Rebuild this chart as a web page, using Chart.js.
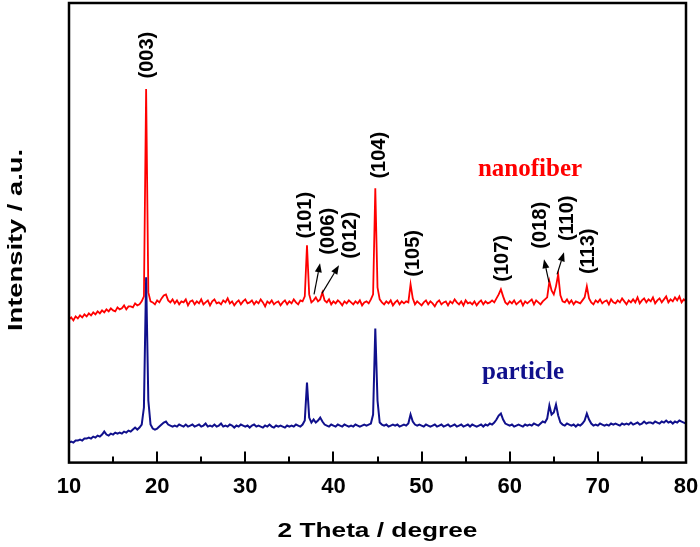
<!DOCTYPE html>
<html>
<head>
<meta charset="utf-8">
<script src="https://cdn.jsdelivr.net/npm/chart.js@4.4.0/dist/chart.umd.min.js"></script>
<style>
  html, body { margin: 0; padding: 0; background: #fff; }
  #wrap { width: 700px; height: 547px; position: relative; }
</style>
</head>
<body>
<div id="wrap"><canvas id="xrd"></canvas></div>
<script>
// 2 theta positions (degree)
const twoTheta = [
  10, 10.25, 10.5, 10.75, 11, 11.25, 11.5, 11.75, 12, 12.25, 12.5, 12.75, 13, 13.25, 13.5, 13.75,
  14, 14.25, 14.5, 14.75, 15, 15.25, 15.5, 15.75, 16, 16.25, 16.5, 16.75, 17, 17.25, 17.5, 17.75,
  18, 18.25, 18.5, 18.75, 19, 19.25, 19.5, 19.75, 20, 20.25, 20.5, 20.75, 21, 21.25, 21.5, 21.75,
  22, 22.25, 22.5, 22.75, 23, 23.25, 23.5, 23.75, 24, 24.25, 24.5, 24.75, 25, 25.25, 25.5, 25.75,
  26, 26.25, 26.5, 26.75, 27, 27.25, 27.5, 27.75, 28, 28.25, 28.5, 28.75, 29, 29.25, 29.5, 29.75,
  30, 30.25, 30.5, 30.75, 31, 31.25, 31.5, 31.75, 32, 32.25, 32.5, 32.75, 33, 33.25, 33.5, 33.75,
  34, 34.25, 34.5, 34.75, 35, 35.25, 35.5, 35.75, 36, 36.25, 36.5, 36.75, 37, 37.25, 37.5, 37.75,
  38, 38.25, 38.5, 38.75, 39, 39.25, 39.5, 39.75, 40, 40.25, 40.5, 40.75, 41, 41.25, 41.5, 41.75,
  42, 42.25, 42.5, 42.75, 43, 43.25, 43.5, 43.75, 44, 44.25, 44.5, 44.75, 45, 45.25, 45.5, 45.75,
  46, 46.25, 46.5, 46.75, 47, 47.25, 47.5, 47.75, 48, 48.25, 48.5, 48.75, 49, 49.25, 49.5, 49.75,
  50, 50.25, 50.5, 50.75, 51, 51.25, 51.5, 51.75, 52, 52.25, 52.5, 52.75, 53, 53.25, 53.5, 53.75,
  54, 54.25, 54.5, 54.75, 55, 55.25, 55.5, 55.75, 56, 56.25, 56.5, 56.75, 57, 57.25, 57.5, 57.75,
  58, 58.25, 58.5, 58.75, 59, 59.25, 59.5, 59.75, 60, 60.25, 60.5, 60.75, 61, 61.25, 61.5, 61.75,
  62, 62.25, 62.5, 62.75, 63, 63.25, 63.5, 63.75, 64, 64.25, 64.5, 64.75, 65, 65.25, 65.5, 65.75,
  66, 66.25, 66.5, 66.75, 67, 67.25, 67.5, 67.75, 68, 68.25, 68.5, 68.75, 69, 69.25, 69.5, 69.75,
  70, 70.25, 70.5, 70.75, 71, 71.25, 71.5, 71.75, 72, 72.25, 72.5, 72.75, 73, 73.25, 73.5, 73.75,
  74, 74.25, 74.5, 74.75, 75, 75.25, 75.5, 75.75, 76, 76.25, 76.5, 76.75, 77, 77.25, 77.5, 77.75,
  78, 78.25, 78.5, 78.75, 79, 79.25, 79.5, 79.75, 80
];

// intensities (a.u., stacked as in the figure)
const nanofiber = [
  143, 145, 142, 146, 144, 147, 145, 148, 146, 149, 147, 150, 148, 151, 149, 152,
  150, 153, 151, 154, 152, 151, 155, 153, 154, 157, 153, 156, 156, 155, 159, 157,
  158, 161, 166, 373, 170, 161, 160, 158, 162, 160, 164, 167, 168, 162, 160, 163,
  159, 162, 158, 161, 160, 163, 157, 161, 162, 158, 161, 159, 163, 158, 160, 162,
  157, 161, 163, 159, 160, 158, 162, 160, 164, 159, 161, 157, 160, 162, 158, 161,
  163, 159, 160, 162, 158, 161, 159, 163, 160, 156, 161, 159, 162, 158, 160, 161,
  157, 160, 162, 158, 161, 159, 163, 160, 158, 162, 161, 166, 217, 168, 160, 162,
  165, 161, 163, 170, 162, 160, 163, 158, 161, 159, 162, 160, 157, 161, 159, 162,
  160, 158, 161, 159, 162, 157, 160, 161, 159, 163, 168, 274, 175, 163, 160, 158,
  161, 159, 162, 157, 160, 162, 158, 161, 159, 161, 160, 178, 164, 158, 161, 159,
  157, 160, 162, 158, 161, 159, 156, 160, 162, 158, 160, 161, 157, 161, 159, 163,
  160, 158, 161, 157, 162, 159, 160, 158, 161, 157, 160, 162, 158, 161, 159, 160,
  162, 160, 164, 168, 173, 166, 160, 158, 161, 159, 162, 158, 160, 162, 157, 161,
  159, 161, 163, 158, 162, 160, 158, 161, 163, 165, 181, 172, 168, 176, 188, 167,
  161, 160, 163, 159, 162, 158, 161, 160, 159, 162, 165, 176, 164, 160, 158, 162,
  160, 163, 159, 161, 162, 158, 163, 160, 159, 162, 160, 164, 161, 158, 162, 160,
  163, 160, 165, 159, 162, 164, 160, 163, 161, 165, 159, 162, 164, 160, 163, 166,
  160, 163, 161, 165, 162, 166, 160, 163, 161
];

const particle = [
  20, 21, 20, 22, 22, 23, 22, 24, 24, 25, 24, 26, 25, 27, 26, 28,
  31, 28, 27, 29, 28, 30, 29, 30, 29, 31, 30, 32, 31, 33, 35, 33,
  35, 38, 55, 185, 62, 38, 34, 33, 34, 36, 38, 40, 41, 38, 37, 36,
  37, 36, 38, 37, 36, 38, 36, 37, 38, 36, 37, 38, 36, 37, 39, 36,
  37, 36, 38, 36, 37, 39, 36, 37, 36, 38, 37, 35, 37, 36, 38, 37,
  36, 37, 35, 37, 38, 36, 37, 36, 35, 37, 36, 38, 36, 35, 37, 36,
  37, 36, 35, 37, 36, 37, 36, 38, 37, 36, 38, 42, 80, 45, 40, 43,
  40, 42, 45, 41, 38, 37, 36, 38, 37, 36, 38, 37, 36, 38, 37, 36,
  37, 36, 38, 37, 36, 37, 38, 37, 38, 39, 48, 134, 62, 40, 38, 37,
  38, 36, 37, 38, 37, 38, 36, 37, 38, 37, 39, 48, 41, 38, 37, 38,
  37, 36, 38, 37, 36, 37, 38, 36, 37, 38, 36, 37, 38, 36, 37, 38,
  36, 37, 38, 36, 37, 38, 36, 38, 37, 36, 37, 38, 36, 38, 37, 39,
  38, 40, 43, 47, 49, 43, 39, 38, 37, 38, 36, 37, 38, 37, 36, 38,
  37, 38, 37, 39, 38, 37, 39, 41, 40, 44, 57, 48, 50, 58, 47, 40,
  38, 37, 39, 38, 37, 38, 36, 38, 37, 39, 42, 49, 43, 39, 37, 38,
  37, 39, 38, 37, 38, 37, 39, 38, 39, 38, 37, 39, 38, 39, 38, 40,
  38, 39, 40, 38, 39, 41, 39, 40, 40, 39, 41, 40, 39, 41, 40, 42,
  40, 41, 39, 41, 40, 42, 41, 40, 39
];

// Miller index labels, placed in data units (degree, a.u.)
const hklText = ['(003)', '(101)', '(006)', '(012)', '(104)', '(105)', '(107)', '(018)', '(110)', '(113)'];
const hklX    = [18.96, 36.78, 39.39, 41.88, 45.17, 49.03, 59.13, 63.44, 66.5, 68.88];
const hklY    = [407, 247, 231, 227, 307, 209, 204, 237, 244, 211];

// arrows: tail x, tail y, head x, head y
const arrowTail = [[37.8, 168], [38.7, 169], [64.46, 180], [65.37, 188]];
const arrowHead = [[38.48, 199], [40.63, 197], [63.89, 203], [66.16, 210]];

const RED = '#ff0000';
const NAVY = '#10108c';

const framePlugin = {
    id: 'frame',
    afterDraw(chart) {
        const ctx = chart.ctx;
        const a = chart.chartArea;
        const xs = chart.scales.x;
        const ys = chart.scales.y;
        ctx.save();

        // box
        ctx.strokeStyle = '#000';
        ctx.lineWidth = 2.5;
        ctx.strokeRect(a.left, a.top, a.right - a.left, a.bottom - a.top);

        // inward ticks, major every 10, minor every 5
        ctx.lineWidth = 2;
        for (let v = 10; v <= 80; v += 5) {
            const px = Math.round(xs.getPixelForValue(v));
            const len = v % 10 === 0 ? 11 : 6;
            ctx.beginPath();
            ctx.moveTo(px, a.bottom);
            ctx.lineTo(px, a.bottom - len);
            ctx.stroke();
        }

        // axis titles (stretched like the original)
        ctx.fillStyle = '#000';
        ctx.font = 'bold 21px "Liberation Sans", Arial, sans-serif';
        ctx.textAlign = 'center';
        ctx.textBaseline = 'alphabetic';
        ctx.save();
        ctx.translate((a.left + a.right) / 2, 537);
        ctx.scale(1.25, 1);
        ctx.fillText('2 Theta / degree', 0, 0);
        ctx.restore();

        ctx.save();
        ctx.translate(22, 240);
        ctx.rotate(-Math.PI / 2);
        ctx.scale(1.3, 1);
        ctx.fillText('Intensity / a.u.', 0, 0);
        ctx.restore();

        // hkl labels
        ctx.font = 'bold 20px "Liberation Sans", Arial, sans-serif';
        ctx.textBaseline = 'middle';
        hklText.forEach((t, i) => {
            ctx.save();
            ctx.translate(xs.getPixelForValue(hklX[i]), ys.getPixelForValue(hklY[i]));
            ctx.rotate(-Math.PI / 2);
            ctx.fillText(t, 0, 0);
            ctx.restore();
        });

        // arrows
        ctx.strokeStyle = '#000';
        ctx.fillStyle = '#000';
        ctx.lineWidth = 1.2;
        arrowTail.forEach((tail, i) => {
            const x1 = xs.getPixelForValue(tail[0]), y1 = ys.getPixelForValue(tail[1]);
            const x2 = xs.getPixelForValue(arrowHead[i][0]), y2 = ys.getPixelForValue(arrowHead[i][1]);
            const ang = Math.atan2(y2 - y1, x2 - x1);
            const hl = 9, hw = 3.5;
            const bx = x2 - hl * Math.cos(ang), by = y2 - hl * Math.sin(ang);
            ctx.beginPath();
            ctx.moveTo(x1, y1);
            ctx.lineTo(bx, by);
            ctx.stroke();
            ctx.beginPath();
            ctx.moveTo(x2, y2);
            ctx.lineTo(bx + hw * Math.sin(ang), by - hw * Math.cos(ang));
            ctx.lineTo(bx - hw * Math.sin(ang), by + hw * Math.cos(ang));
            ctx.closePath();
            ctx.fill();
        });

        // sample names
        ctx.font = 'bold 25px "Liberation Serif", "Times New Roman", serif';
        ctx.textBaseline = 'alphabetic';
        ctx.fillStyle = RED;
        ctx.fillText('nanofiber', xs.getPixelForValue(62.3), ys.getPixelForValue(286));
        ctx.fillStyle = NAVY;
        ctx.fillText('particle', xs.getPixelForValue(61.51), ys.getPixelForValue(83));

        ctx.restore();
    }
};

new Chart(document.getElementById('xrd'), {
    type: 'line',
    data: {
        labels: twoTheta,
        datasets: [
            { label: 'particle', data: particle, borderColor: NAVY, borderWidth: 2, pointRadius: 0, tension: 0, fill: false },
            { label: 'nanofiber', data: nanofiber, borderColor: RED, borderWidth: 1.8, pointRadius: 0, tension: 0, fill: false }
        ]
    },
    options: {
        responsive: true,
        maintainAspectRatio: false,
        animation: false,
        layout: { padding: { left: 69, right: 14, top: 3, bottom: 36 } },
        plugins: { legend: { display: false }, tooltip: { enabled: false } },
        scales: {
            x: {
                type: 'linear',
                min: 10,
                max: 80,
                grid: { display: false, drawTicks: false },
                border: { display: false },
                afterFit: (s) => { s.paddingLeft = 0; s.paddingRight = 0; },
                ticks: {
                    stepSize: 10,
                    padding: 11,
                    maxRotation: 0,
                    color: '#000',
                    font: { family: '"Liberation Sans", Arial, sans-serif', size: 22, weight: 'bold' }
                }
            },
            y: { display: false, min: 0, max: 459 }
        }
    },
    plugins: [framePlugin]
});
</script>
</body>
</html>
